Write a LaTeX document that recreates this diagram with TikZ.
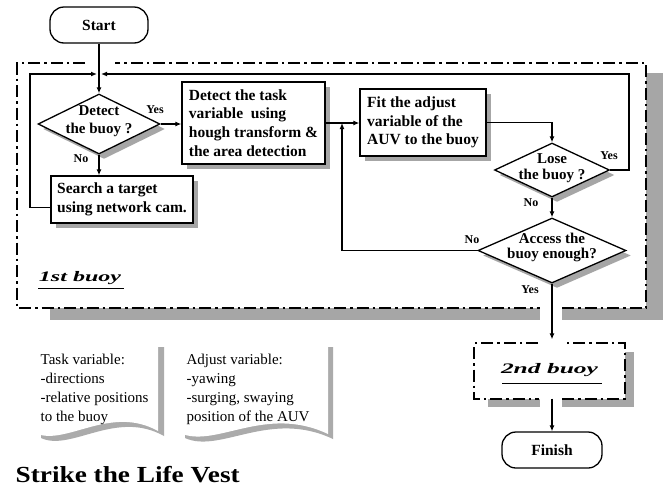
\documentclass[tikz,border=0pt]{standalone}
\usepackage{fontspec}
\setmainfont{Liberation Serif}
\usetikzlibrary{shapes.geometric,shadows,arrows.meta,calc}

\newcommand\flowfont{\fontsize{15.5}{18.7}\selectfont\bfseries}
\newcommand\askfont{\fontsize{15}{15.5}\selectfont\bfseries}
\newcommand\tagfont{\fontsize{12}{14}\selectfont\bfseries}
\newcommand\notefont{\fontsize{15}{19.3}\selectfont}

\begin{document}
\begin{tikzpicture}[x=1pt,y=-1pt,
  line width=1.3pt,
  >={Latex[length=6pt,width=5pt]},
  shade/.style={general shadow={fill=black!35, shadow xshift=5pt, shadow yshift=-5pt}},
  procbox/.style={draw, fill=white, inner sep=0pt, align=left, font=\flowfont, shade},
  termbox/.style={draw, fill=white, rounded corners=14pt, inner sep=0pt, font=\flowfont},
  askbox/.style={diamond, draw, fill=white, inner sep=0pt, shade},
  asktext/.style={align=center, font=\askfont, inner sep=0pt},
  tag/.style={font=\tagfont, inner sep=0pt},
  group/.style={line width=2pt, dash pattern=on 12pt off 4pt on 2.5pt off 4pt},
  groupshade/.style={fill=black!35, draw=none},
  note/.style={align=left, font=\notefont, inner sep=0pt, anchor=north west},
]
\useasboundingbox (0,0) rectangle (666,496);
\fill[white] (0,0) rectangle (666,496);

% shadow and frame of the first-buoy group
\fill[groupshade] (646,73) rectangle (663,320);
\fill[groupshade] (50,308) rectangle (540,320);
\fill[groupshade] (562,308) rectangle (646,320);
\draw[group] (85,63) -- (17,63) -- (17,308) -- (540,308);
\draw[group] (562,308) -- (646,308) -- (646,63) -- (115,63);

% flow nodes
\node[termbox, minimum width=98pt, minimum height=36pt] (st) at (99,25) {Start};
\node[askbox, minimum width=122pt, minimum height=60pt] (d1) at (99,124) {};
\node[asktext, font=\fontsize{15}{18}\selectfont\bfseries] (d1t) at ([yshift=3pt]d1.center) {Detect\\the buoy ?};
\node[procbox, minimum width=143pt, minimum height=82pt] (b1) at (253.5,123)
  {Detect the task\\variable\ \ using\\hough transform \&\\the area detection};
\node[procbox, minimum width=142pt, minimum height=47pt] (s) at (122,199.5)
  {Search a target\\using network cam.};
\node[procbox, minimum width=126pt, minimum height=67pt] (f) at (423,122.5)
  {Fit the adjust\\variable of the\\AUV to the buoy};
\node[askbox, minimum width=115pt, minimum height=54pt] (d2) at (552,170) {};
\node[asktext] (d2t) at ([yshift=2pt]d2.center) {Lose\\the buoy ?};
\node[askbox, minimum width=148pt, minimum height=65pt] (d3) at (552,250.5) {};
\node[asktext] (d3t) at ([yshift=3pt]d3.center) {Access the\\buoy enough?};

% second-buoy group
\node[minimum width=149pt, minimum height=54pt, inner sep=0pt] (b2) at (549.5,371) {};
\fill[groupshade] ([xshift=0pt,yshift=-9pt]b2.north east) rectangle ([xshift=9pt,yshift=-8pt]b2.south east);
\fill[groupshade] ([xshift=14pt]b2.south west) rectangle ([xshift=-9.5pt,yshift=-8pt]b2.south);
\fill[groupshade] ([xshift=12.5pt]b2.south) rectangle ([xshift=9pt,yshift=-8pt]b2.south east);
\draw[group] ([xshift=-11.5pt]b2.north) -- (b2.north west) -- (b2.south west) -- ([xshift=-10.5pt]b2.south);
\draw[group] ([xshift=12.5pt]b2.south) -- (b2.south east) -- (b2.north east) -- ([xshift=16.5pt]b2.north);
\node[inner sep=0pt, font=\fontsize{14.5}{16}\selectfont\bfseries\itshape] (b2t) at ([yshift=1pt]b2.center)
  {\resizebox{97pt}{\height}{2nd buoy}};
\draw[line width=0.9pt] (502,383) -- (602,383);

\node[termbox, minimum width=100pt, minimum height=36pt] (fin) at (552,450) {Finish};

% junction points of the loops
\coordinate (j) at (99,74);
\coordinate (xl) at (30,74);
\coordinate (xr) at (629,74);
\coordinate (jn) at (342,123);

% connectors
\draw[->] (st.south) -- (d1.north);
\draw[->, shorten >=2pt] ([yshift=-8pt]s.west) -| (xl) -- (j);
\draw[->, shorten >=2pt] (d2.east) -| (xr) -- (j);
\draw[->] (d1.east) -- (d1.east -| b1.west);
\draw[->] (d1.south) -- (d1.south |- s.north);
\draw[->] (b1.east) -- (b1.east -| f.west);
\draw[->] (f.east) -| (d2.north);
\draw[->] (d2.south) -- (d3.north);
\draw[->] (d3.west) -| (jn);
\draw[->] (d3.south) -- ([yshift=4pt]d3.south |- b2.north);
\draw[->] (b2.south -| fin.north) -- (fin.north);

% branch labels
\node[tag] (y1) at (155,110) {Yes};
\node[tag] (n1) at (81,159) {No};
\node[tag] (y2) at (609,156) {Yes};
\node[tag] (n2) at (531,203) {No};
\node[tag] (n3) at (472,240) {No};
\node[tag] (y3) at (530,290) {Yes};

% group title
\node[inner sep=0pt, font=\fontsize{14.5}{16}\selectfont\bfseries\itshape] (g1) at (80,278)
  {\resizebox{82pt}{\height}{1st buoy}};
\draw[line width=0.9pt] (38,288) -- (124,288);

% note sheets
\fill[black!33, shift={(6,5)}] (35,342) -- (158,342) -- (158,431)
  .. controls (110,404) and (65,447) .. (35,433) -- cycle;
\fill[white] (35,342) -- (158,342) -- (158,431)
  .. controls (110,404) and (65,447) .. (35,433) -- cycle;
\fill[black!33, shift={(5,5)}] (180,342) -- (328,342) -- (328,434)
  .. controls (265,404) and (215,449) .. (180,433) -- cycle;
\fill[white] (180,342) -- (328,342) -- (328,434)
  .. controls (265,404) and (215,449) .. (180,433) -- cycle;
\node[note] (n1t) at (40,353) {Task variable:\\-directions\\-relative positions\\to the buoy};
\node[note] (n2t) at (186,353) {Adjust variable:\\-yawing\\-surging, swaying\\position of the AUV};

% title
\node[inner sep=0pt, anchor=base west, font=\fontsize{23}{26}\selectfont\bfseries] (title) at (15,482)
  {\resizebox{224pt}{\height}{Strike the Life Vest}};
\end{tikzpicture}
\end{document}
